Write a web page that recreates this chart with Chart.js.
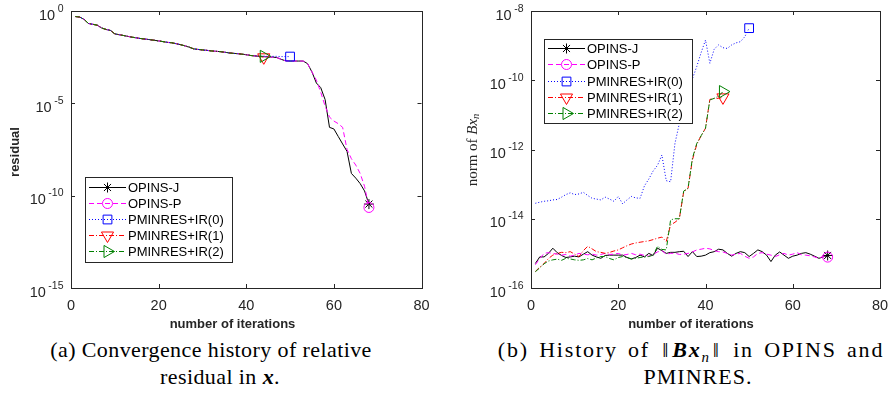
<!DOCTYPE html>
<html><head><meta charset="utf-8">
<script src="https://cdn.jsdelivr.net/npm/chart.js"></script>
<style>
html,body{margin:0;padding:0;background:#fff;width:889px;height:401px;overflow:hidden;}
canvas{position:absolute;top:0;}
#ca{left:0;}
#cb{left:445px;}
.cap{position:absolute;width:520px;text-align:center;font-family:"Liberation Serif","Times New Roman",serif;font-size:22px;line-height:27px;color:#000;white-space:nowrap;letter-spacing:0.4px;}
.sub{font-size:0.68em;position:relative;top:0.32em;font-style:italic;}
.nb{margin:0 2px;font-weight:normal;}
</style></head><body>
<canvas id="ca" width="445" height="330"></canvas>
<canvas id="cb" width="444" height="330"></canvas>
<div class="cap" style="left:-49px;top:336px;">(a) Convergence history of relative</div>
<div class="cap" style="left:-40px;top:363px;">residual in <b><i>x</i></b>.</div>
<div class="cap" style="left:431px;top:336px;letter-spacing:1.8px;word-spacing:3px;">(b) History of <span class="nb">‖</span><b><i>Bx</i></b><span class="sub">n</span><span class="nb">‖</span> in OPINS and</div>
<div class="cap" style="left:438px;top:363px;letter-spacing:1px;">PMINRES.</div>
<script>
// ---------- data ----------
const seriesNames = ['OPINS-J', 'OPINS-P', 'PMINRES+IR(0)', 'PMINRES+IR(1)', 'PMINRES+IR(2)'];
const xTicks = [0, 20, 40, 60, 80];
const leftYTicks = [1e0, 1e-5, 1e-10, 1e-15];
const leftYExp = ['0', '-5', '-10', '-15'];
const rightYTicks = [1e-8, 1e-10, 1e-12, 1e-14, 1e-16];
const rightYExp = ['-8', '-10', '-12', '-14', '-16'];

// (a) relative residual, iterations 1..43 shared by all methods
const resCommon = [5.0e-1, 4.7e-1, 3.5e-1, 2.1e-1, 1.9e-1, 1.7e-1, 1.2e-1, 1.0e-1, 8.9e-2, 5.8e-2,
  5.2e-2, 4.7e-2, 4.2e-2, 3.8e-2, 3.5e-2, 3.2e-2, 3.0e-2, 2.8e-2, 2.6e-2, 2.4e-2,
  2.2e-2, 2.0e-2, 1.9e-2, 1.7e-2, 1.5e-2, 1.3e-2, 1.1e-2, 8.9e-3, 8.3e-3, 7.8e-3,
  7.4e-3, 6.9e-3, 6.6e-3, 6.3e-3, 5.9e-3, 5.4e-3, 5.1e-3, 4.9e-3, 4.6e-3, 4.3e-3,
  3.9e-3, 3.7e-3, 3.5e-3];
// iterations 44..68
const resJTail = [3.4e-3, 3.2e-3, 3.2e-3, 3.0e-3, 2.4e-3, 2.0e-3, 1.95e-3, 1.95e-3, 1.95e-3, 1.95e-3,
  1.4e-3, 5.0e-4, 1.26e-4, 7.1e-5, 1.6e-5, 5.0e-7, 4.1e-7, 1.6e-7, 6.3e-8, 2.5e-8,
  1.6e-9, 8.9e-10, 4.5e-10, 1.8e-10, 3.5e-11];
const resPTail = [3.4e-3, 3.2e-3, 3.2e-3, 3.0e-3, 2.4e-3, 2.0e-3, 1.95e-3, 1.95e-3, 1.95e-3, 1.95e-3,
  1.4e-3, 5.0e-4, 1.8e-4, 4.0e-5, 7.1e-6, 1.8e-6, 1.1e-6, 7.9e-7, 5.0e-7, 3.2e-8,
  1.0e-8, 4.5e-9, 1.6e-9, 3.2e-10, 2.3e-11];
const resIR0Tail = [3.6e-3, 3.5e-3, 3.5e-3, 3.5e-3, 3.4e-3, 3.4e-3, 3.4e-3];
const resIR1Tail = [3.1e-3];
const resIR2Tail = [3.5e-3];

// (b) norm of B x_n
const bxJ = [5.1e-16, 7.9e-16, 7.9e-16, 1.0e-15, 1.41e-15, 1.05e-15, 8.7e-16, 7.6e-16, 7.9e-16, 8.3e-16,
  7.9e-16, 9.5e-16, 1.12e-15, 8.9e-16, 7.9e-16, 7.2e-16, 8.7e-16, 8.9e-16, 8.9e-16, 8.9e-16,
  8.9e-16, 7.6e-16, 6.9e-16, 7.6e-16, 8.9e-16, 7.9e-16, 1.0e-15, 8.7e-16, 1.41e-15, 1.2e-15,
  1.0e-15, 1.07e-15, 1.07e-15, 1.12e-15, 1.15e-15, 8.1e-16, 1.12e-15, 8.1e-16, 8.3e-16, 8.9e-16,
  1.05e-15, 1.12e-15, 1.32e-15, 1.26e-15, 1.0e-15, 8.3e-16, 1.0e-15, 1.12e-15, 1.05e-15, 8.1e-16,
  1.0e-15, 1.26e-15, 1.12e-15, 8.9e-16, 5.8e-16, 8.9e-16, 1.1e-15, 8.9e-16, 7.2e-16, 8.3e-16,
  8.9e-16, 1.0e-15, 1.05e-15, 9.5e-16, 8.3e-16, 7.2e-16, 7.9e-16, 8.7e-16];
const bxP = [4.7e-16, 7.1e-16, 1.0e-15, 1.05e-15, 1.0e-15, 9.5e-16, 8.9e-16, 9.3e-16, 8.3e-16, 8.9e-16,
  1.0e-15, 9.5e-16, 9.1e-16, 9.5e-16, 8.9e-16, 9.3e-16, 1.0e-15, 9.3e-16, 9.5e-16, 1.0e-15,
  8.9e-16, 9.3e-16, 1.0e-15, 9.1e-16, 9.5e-16, 8.7e-16, 8.3e-16, 9.3e-16, 1.1e-15, 1.2e-15,
  9.5e-16, 1.0e-15, 1.02e-15, 9.3e-16, 9.5e-16, 1.0e-15, 1.1e-15, 1.26e-15, 1.32e-15, 1.41e-15,
  1.35e-15, 1.2e-15, 1.12e-15, 1.1e-15, 1.0e-15, 8.9e-16, 9.5e-16, 1.0e-15, 8.3e-16, 7.2e-16,
  7.9e-16, 1.0e-15, 1.05e-15, 9.5e-16, 8.9e-16, 8.1e-16, 9.1e-16, 1.0e-15, 8.9e-16, 9.5e-16,
  1.05e-15, 9.1e-16, 8.9e-16, 8.5e-16, 7.9e-16, 7.2e-16, 8.3e-16, 7.8e-16];
const bxIR0 = [2.8e-14, 3.0e-14, 3.2e-14, 3.3e-14, 3.5e-14, 3.6e-14, 4.2e-14, 5.0e-14, 5.6e-14, 5.0e-14,
  5.2e-14, 5.8e-14, 4.7e-14, 3.9e-14, 3.7e-14, 3.5e-14, 4.2e-14, 3.7e-14, 3.2e-14, 4.4e-14,
  2.7e-14, 3.5e-14, 4.4e-14, 4.0e-14, 3.9e-14, 8.9e-14, 1.4e-13, 2.4e-13, 3.5e-13, 6.9e-13,
  1.26e-13, 1.17e-13, 1.5e-12, 5.6e-12, 2.8e-11, 5.0e-11, 1.1e-10, 2.5e-10, 6.3e-10, 1.45e-9,
  3.1e-10, 7.9e-10, 1.05e-9, 8.7e-10, 8.3e-10, 1.05e-9, 1.2e-9, 1.3e-9, 1.8e-9, 3.2e-9];
const bxIR1 = [3.0e-16, 4.0e-16, 5.1e-16, 7.1e-16, 8.9e-16, 1.0e-15, 1.07e-15, 1.05e-15, 1.12e-15, 9.5e-16,
  8.1e-16, 1.2e-15, 1.6e-15, 1.35e-15, 1.12e-15, 1.07e-15, 1.0e-15, 1.07e-15, 1.17e-15, 1.26e-15,
  1.45e-15, 1.66e-15, 1.86e-15, 2.0e-15, 2.1e-15, 2.2e-15, 2.3e-15, 2.5e-15, 2.75e-15, 2.95e-15,
  2.2e-15, 6.6e-15, 7.9e-15, 1.0e-14, 6.0e-14, 7.6e-14, 5.0e-13, 1.4e-12, 2.5e-12, 4.1e-12,
  2.8e-11, 3.0e-11, 3.0e-11, 3.2e-11];
const bxIR2 = [2.95e-16, 3.8e-16, 5.0e-16, 6.0e-16, 6.5e-16, 6.8e-16, 6.3e-16, 7.2e-16, 6.9e-16, 6.5e-16,
  6.3e-16, 6.5e-16, 7.1e-16, 6.5e-16, 7.4e-16, 8.1e-16, 8.1e-16, 7.1e-16, 6.5e-16, 7.6e-16,
  8.1e-16, 7.6e-16, 6.9e-16, 7.2e-16, 7.6e-16, 7.9e-16, 8.1e-16, 8.9e-16, 1.6e-15, 1.3e-15,
  1.26e-15, 9.3e-15, 1.0e-14, 1.0e-14, 6.3e-14, 7.6e-14, 5.6e-13, 1.5e-12, 2.5e-12, 4.1e-12,
  2.7e-11, 3.0e-11, 3.5e-11, 4.7e-11];

// ---------- styles ----------
const AX = '#262626';
const styles = [
  {color: '#000000', dash: [], point: 'star', rot: 0, r: 5, order: 4},
  {color: '#ff00ff', dash: [5, 3], point: 'circle', rot: 0, r: 5, order: 3},
  {color: '#0000ff', dash: [1, 2], point: 'rect', rot: 0, r: 6.2, order: 2},
  {color: '#ff0000', dash: [5, 2, 1, 2], point: 'triangle', rot: 180, r: 7, order: 1},
  {color: '#008000', dash: [5, 2, 1, 2], point: 'triangle', rot: 90, r: 7, order: 0}
];

function makeSet(i, ys) {
  const s = styles[i], n = ys.length;
  return {
    label: seriesNames[i],
    data: ys.map((v, k) => ({x: k + 1, y: v})),
    borderColor: s.color, backgroundColor: s.color, borderWidth: 1, borderDash: s.dash,
    pointStyle: s.point, pointRotation: s.rot,
    pointRadius: c => (c.dataIndex === n - 1 ? s.r : 0),
    pointHoverRadius: 0, pointBorderColor: s.color, pointBackgroundColor: 'rgba(0,0,0,0)',
    pointBorderWidth: 1, tension: 0, fill: false, order: s.order, clip: false
  };
}

function drawMarker(ctx, style, rot, r, x, y, color) {
  ctx.save();
  ctx.translate(x, y);
  ctx.rotate(rot * Math.PI / 180);
  ctx.strokeStyle = color; ctx.lineWidth = 1; ctx.setLineDash([]);
  ctx.beginPath();
  if (style === 'circle') {
    ctx.arc(0, 0, r, 0, Math.PI * 2);
  } else if (style === 'rect') {
    const h = r * Math.SQRT1_2;
    ctx.rect(-h, -h, 2 * h, 2 * h);
  } else if (style === 'triangle') {
    for (let k = 0; k < 3; k++) {
      const a = k * 2 * Math.PI / 3;
      const px = Math.sin(a) * r, py = -Math.cos(a) * r;
      if (k === 0) ctx.moveTo(px, py); else ctx.lineTo(px, py);
    }
    ctx.closePath();
  } else if (style === 'star') {
    const d = r * Math.SQRT1_2;
    ctx.moveTo(0, -r); ctx.lineTo(0, r);
    ctx.moveTo(-r, 0); ctx.lineTo(r, 0);
    ctx.moveTo(-d, -d); ctx.lineTo(d, d);
    ctx.moveTo(-d, d); ctx.lineTo(d, -d);
  }
  ctx.stroke();
  ctx.restore();
}

function decoPlugin(cfg) {
  return {
    id: 'deco',
    afterDraw(chart) {
      const ctx = chart.ctx, a = chart.chartArea;
      const xs = chart.scales.x, ys = chart.scales.y;
      ctx.save();
      ctx.strokeStyle = AX; ctx.lineWidth = 1; ctx.setLineDash([]);
      ctx.strokeRect(Math.round(a.left) + 0.5, Math.round(a.top) + 0.5,
        Math.round(a.right) - Math.round(a.left), Math.round(a.bottom) - Math.round(a.top));
      const tl = 4;
      ctx.beginPath();
      xTicks.forEach(v => {
        const px = Math.round(xs.getPixelForValue(v)) + 0.5;
        ctx.moveTo(px, a.bottom); ctx.lineTo(px, a.bottom - tl);
        ctx.moveTo(px, a.top); ctx.lineTo(px, a.top + tl);
      });
      cfg.yTicks.forEach(v => {
        const py = Math.round(ys.getPixelForValue(v)) + 0.5;
        ctx.moveTo(a.left, py); ctx.lineTo(a.left + tl, py);
        ctx.moveTo(a.right, py); ctx.lineTo(a.right - tl, py);
      });
      ctx.stroke();
      // x tick labels
      ctx.fillStyle = AX;
      ctx.font = '14.5px "Liberation Sans", Arial, sans-serif';
      ctx.textAlign = 'center'; ctx.textBaseline = 'alphabetic';
      xTicks.forEach(v => ctx.fillText(String(v), xs.getPixelForValue(v), a.bottom + 22));
      // y tick labels 10^k
      cfg.yTicks.forEach((v, i) => {
        const py = ys.getPixelForValue(v);
        ctx.font = '14.5px "Liberation Sans", Arial, sans-serif';
        const w10 = ctx.measureText('10').width;
        ctx.font = '10.5px "Liberation Sans", Arial, sans-serif';
        const we = ctx.measureText(cfg.yExp[i]).width;
        const right = a.left - 7.5;
        const x0 = right - (w10 + 2.5 + we);
        ctx.textAlign = 'left';
        ctx.font = '14.5px "Liberation Sans", Arial, sans-serif';
        ctx.fillText('10', x0, py + 8.5);
        ctx.font = '10.5px "Liberation Sans", Arial, sans-serif';
        ctx.fillText(cfg.yExp[i], x0 + w10 + 2.5, py + 0.7);
      });
      // x title
      ctx.font = 'bold 13px "Liberation Sans", Arial, sans-serif';
      ctx.textAlign = 'center';
      ctx.fillText('number of iterations', cfg.xTitleX, 328);
      // y title
      ctx.save();
      ctx.translate(cfg.yTitleX, cfg.yTitleY);
      ctx.rotate(-Math.PI / 2);
      ctx.textBaseline = 'middle';
      let total = 0;
      cfg.yTitle.forEach(p => { ctx.font = p.f; total += ctx.measureText(p.t).width; });
      let cx = -total / 2;
      ctx.textAlign = 'left';
      cfg.yTitle.forEach(p => {
        ctx.font = p.f;
        ctx.fillText(p.t, cx, p.dy || 0);
        cx += ctx.measureText(p.t).width;
      });
      ctx.restore();
      // legend
      const L = cfg.legend;
      ctx.fillStyle = '#ffffff';
      ctx.fillRect(L.x, L.y, L.w, L.h);
      ctx.strokeStyle = AX;
      ctx.strokeRect(L.x + 0.5, L.y + 0.5, L.w, L.h);
      chart.data.datasets.forEach((ds, i) => {
        const s = styles[i];
        const ry = Math.round(L.row0 + i * L.dy) + 0.5;
        ctx.strokeStyle = s.color; ctx.lineWidth = 1;
        ctx.setLineDash(s.dash);
        ctx.beginPath();
        ctx.moveTo(L.x + 4, ry); ctx.lineTo(L.x + 41, ry);
        ctx.stroke();
        ctx.setLineDash([]);
        drawMarker(ctx, s.point, s.rot, s.r, L.x + 22.5, ry, s.color);
        ctx.fillStyle = '#000';
        ctx.font = '13px "Liberation Sans", Arial, sans-serif';
        ctx.textAlign = 'left'; ctx.textBaseline = 'middle';
        ctx.fillText(ds.label, L.x + 43, ry + 0.5);
      });
      ctx.restore();
    }
  };
}

function baseOptions(pad, ymin, ymax) {
  return {
    responsive: false, animation: false, events: [], devicePixelRatio: 1,
    layout: {padding: pad},
    plugins: {legend: {display: false}, tooltip: {enabled: false}},
    scales: {
      x: {type: 'linear', min: 0, max: 80, display: false},
      y: {type: 'logarithmic', min: ymin, max: ymax, display: false}
    }
  };
}

new Chart(document.getElementById('ca'), {
  type: 'line',
  data: {datasets: [
    makeSet(0, resCommon.concat(resJTail)),
    makeSet(1, resCommon.concat(resPTail)),
    makeSet(2, resCommon.concat(resIR0Tail)),
    makeSet(3, resCommon.concat(resIR1Tail)),
    makeSet(4, resCommon.concat(resIR2Tail))
  ]},
  options: baseOptions({left: 71, right: 23.5, top: 11, bottom: 42}, 1e-15, 1),
  plugins: [decoPlugin({
    yTicks: leftYTicks, yExp: leftYExp, xTitleX: 232.5,
    yTitleX: 15, yTitleY: 152,
    yTitle: [{t: 'residual', f: 'bold 13px "Liberation Sans", Arial, sans-serif'}],
    legend: {x: 85, y: 177, w: 147, h: 85, row0: 187, dy: 16}
  })]
});

new Chart(document.getElementById('cb'), {
  type: 'line',
  data: {datasets: [
    makeSet(0, bxJ), makeSet(1, bxP), makeSet(2, bxIR0), makeSet(3, bxIR1), makeSet(4, bxIR2)
  ]},
  options: baseOptions({left: 86, right: 9, top: 11, bottom: 42}, 1e-16, 1e-8),
  plugins: [decoPlugin({
    yTicks: rightYTicks, yExp: rightYExp, xTitleX: 246,
    yTitleX: 28, yTitleY: 150,
    yTitle: [
      {t: 'norm of ', f: '15px "Liberation Serif", serif'},
      {t: 'Bx', f: 'italic 15px "Liberation Serif", serif'},
      {t: 'n', f: 'italic 10.5px "Liberation Serif", serif', dy: 3}
    ],
    legend: {x: 99, y: 39, w: 148, h: 84, row0: 48, dy: 16.3}
  })]
});
</script>
</body></html>
